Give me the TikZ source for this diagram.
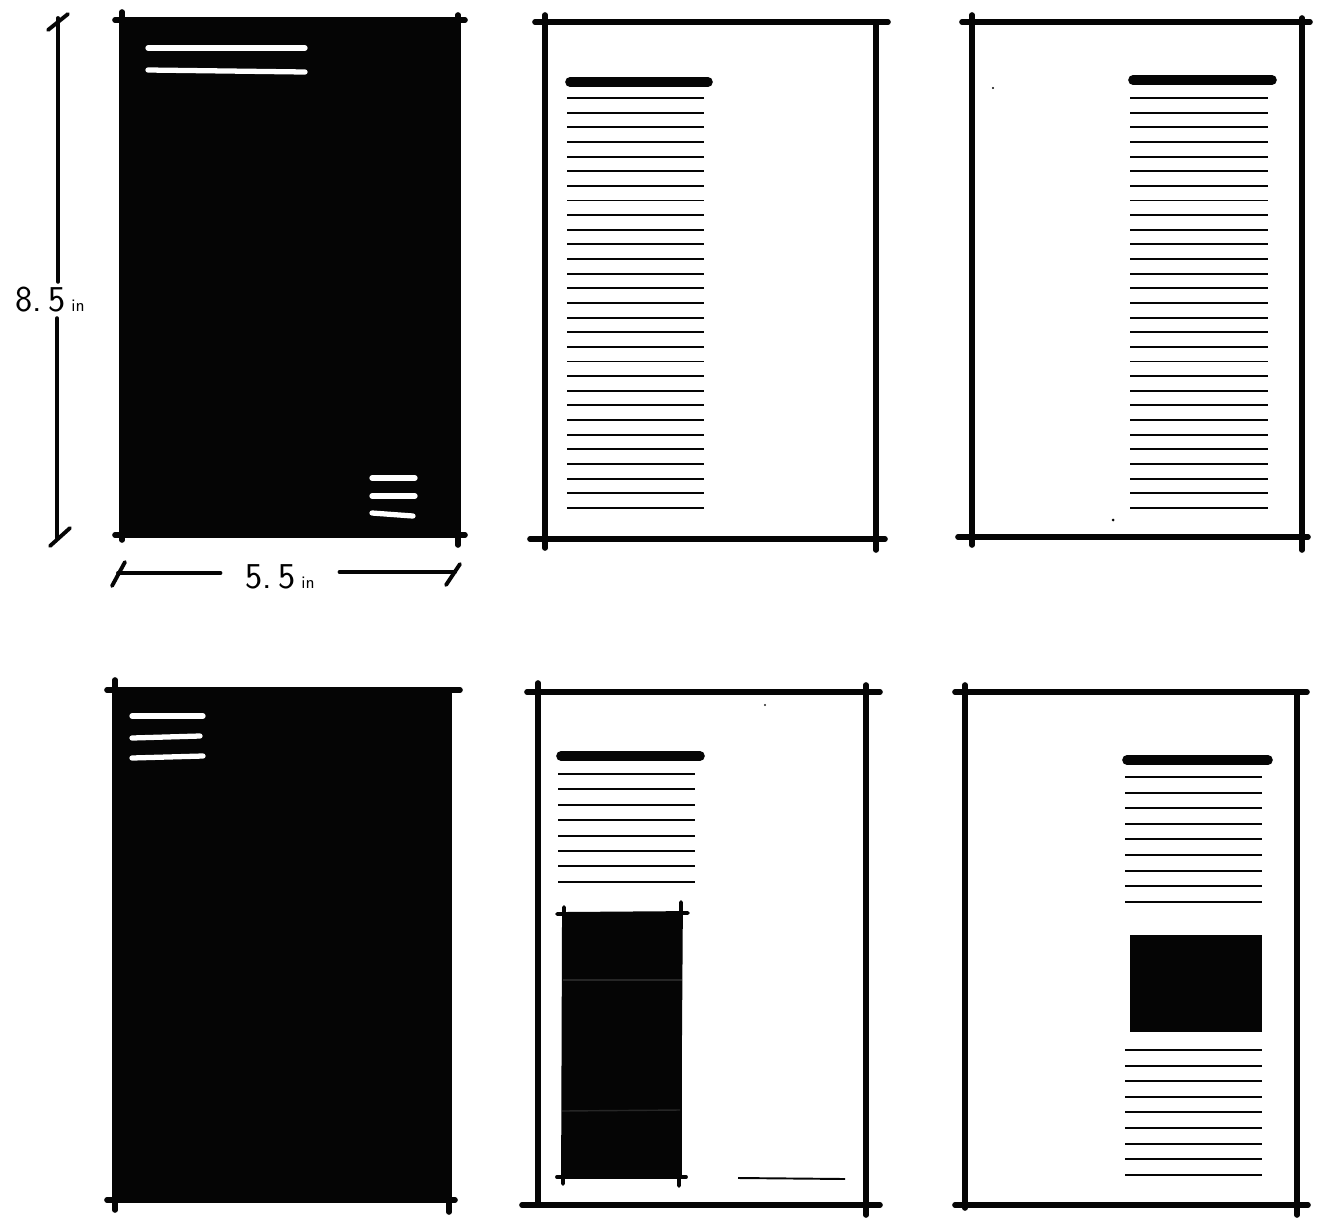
\documentclass[tikz,border=0pt]{standalone}
\usepackage{xcolor}
\usepackage{tikz}
\definecolor{SketchInk}{HTML}{050505}
\definecolor{SketchGrey}{HTML}{262626}

\begin{document}
\begin{tikzpicture}[x=0.02cm, y=-0.02cm,
    frameline/.style={SketchInk, line width=3.2pt, line cap=round},
    textline/.style={SketchInk, line width=1.1pt},
    headline/.style={SketchInk, line width=5.5pt, line cap=round},
    whiteline/.style={white, line width=3pt, line cap=round},
    dimline/.style={SketchInk, line width=2.2pt, line cap=round},
    dimlabel/.style={font=\sffamily\itshape, inner sep=3pt}]
  \useasboundingbox[fill=white] (0,0) rectangle (1319,1218);

  % top left: cover
  \fill[SketchInk] (122,20) rectangle (458,535);
  \draw[frameline] (115,20) -- (465,20);
  \draw[frameline] (122,12) -- (122,540);
  \draw[frameline] (115,535) -- (465,535);
  \draw[frameline] (458,15) -- (458,545);
  \draw[whiteline] (148,48) -- (305,48);
  \draw[whiteline] (148,70) -- (305,72);
  \draw[whiteline] (372,478) -- (415,478);
  \draw[whiteline] (372,496) -- (415,496);
  \draw[whiteline] (372,513) -- (413,516);

  % dimensions
  \node[dimlabel, font=\sffamily\huge] (vlabel) at (50,300) {8.\,5\,{\normalsize in}};
  \coordinate (vtop) at (58,18);
  \coordinate (vbot) at (57,538);
  \draw[dimline] (vtop) -- (vtop |- vlabel.north);
  \draw[dimline] (vbot |- vlabel.south) -- (vbot);
  \draw[dimline] (48,30) -- (68,14);
  \draw[dimline] (50,546) -- (70,528);

  \node[dimlabel, font=\sffamily\huge, inner xsep=14pt] (hlabel) at (280,577) {5.\,5\,{\normalsize in}};
  \coordinate (hleft) at (118,573);
  \coordinate (hright) at (455,572);
  \draw[dimline] (hleft) -- (hlabel.west |- hleft);
  \draw[dimline] (hlabel.east |- hright) -- (hright);
  \draw[dimline] (112,586) -- (125,562);
  \draw[dimline] (446,585) -- (460,564);

  % top middle: text left
  \draw[frameline] (535,22) -- (888,22);
  \draw[frameline] (545,15) -- (545,548);
  \draw[frameline] (530,539) -- (885,539);
  \draw[frameline] (876,25) -- (876,550);
  \draw[headline] (570,82) -- (708,82);
  \foreach \i in {0,...,28}
    \draw[textline] (567,98+\i*14.64) -- (704,98+\i*14.64);

  % top right: text right
  \draw[frameline] (962,22) -- (1310,22);
  \draw[frameline] (972,15) -- (972,545);
  \draw[frameline] (958,537) -- (1308,537);
  \draw[frameline] (1302,18) -- (1302,550);
  \draw[headline] (1133,80) -- (1272,80);
  \foreach \i in {0,...,28}
    \draw[textline] (1130,98+\i*14.64) -- (1268,98+\i*14.64);
  \fill[SketchInk] (993,88) circle (1.2);
  \fill[SketchInk] (1113,520) circle (1.5);

  % bottom left: cover
  \fill[SketchInk] (115,690) rectangle (450,1200);
  \draw[frameline] (107,690) -- (460,690);
  \draw[frameline] (115,680) -- (115,1210);
  \draw[frameline] (107,1200) -- (455,1200);
  \draw[frameline] (449,690) -- (449,1212);
  \draw[whiteline] (132,716) -- (203,716);
  \draw[whiteline] (132,738) -- (200,736);
  \draw[whiteline] (132,758) -- (203,756);

  % bottom middle: text and tall image
  \draw[frameline] (527,692) -- (880,692);
  \draw[frameline] (538,683) -- (538,1203);
  \draw[frameline] (522,1205) -- (880,1205);
  \draw[frameline] (866,685) -- (866,1215);
  \draw[headline] (561,756) -- (700,756);
  \foreach \i in {0,...,7}
    \draw[textline] (558,774+\i*15.4) -- (695,774+\i*15.4);
  \fill[SketchInk] (563,915) rectangle (682,1178);
  \draw[frameline, line width=2.2pt] (557,914) -- (688,913);
  \draw[frameline, line width=2.2pt] (557,1177) -- (686,1177);
  \draw[frameline, line width=2.2pt] (564,907) -- (563,1184);
  \draw[frameline, line width=2.2pt] (681,902) -- (679,1186);
  \draw[SketchGrey, line width=0.8pt] (563,980) -- (682,980);
  \draw[SketchGrey, line width=0.8pt] (562,1111) -- (680,1110);
  \draw[textline] (738,1178) -- (845,1179);
  \fill[SketchGrey] (765,705) circle (1.2);

  % bottom right: text and wide image
  \draw[frameline] (955,692) -- (1307,692);
  \draw[frameline] (965,685) -- (965,1208);
  \draw[frameline] (955,1205) -- (1308,1205);
  \draw[frameline] (1297,695) -- (1297,1215);
  \draw[headline] (1127,760) -- (1268,760);
  \foreach \i in {0,...,8}
    \draw[textline] (1125,777+\i*15.6) -- (1262,777+\i*15.6);
  \fill[SketchInk] (1130,935) rectangle (1262,1032);
  \foreach \i in {0,...,8}
    \draw[textline] (1125,1050+\i*15.6) -- (1262,1050+\i*15.6);
\end{tikzpicture}
\end{document}
